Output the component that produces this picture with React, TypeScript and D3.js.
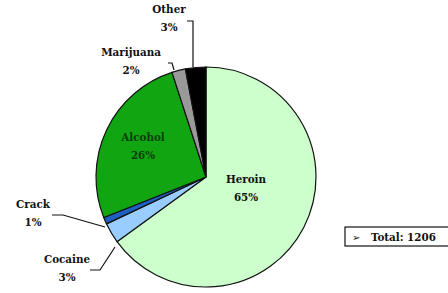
import { useEffect, useRef } from "react"
import * as d3 from "d3"

const categories = ["Heroin", "Cocaine", "Crack", "Alcohol", "Marijuana", "Other"]
const shares = [65, 3, 1, 26, 2, 3]
const sliceColors = ["#ccffcc", "#99ccff", "#1f5fc0", "#11a611", "#999999", "#000000"]
const totalLabel = "Total: 1206"

export default function App() {
    const ref = useRef<SVGSVGElement>(null)

    useEffect(() => {
        const width = 448, height = 293
        const cx = 206, cy = 177, r = 110
        const svg = d3.select(ref.current)
        svg.selectAll("*").remove()

        const data = categories.map((c, i) => ({ name: c, value: shares[i], color: sliceColors[i] }))
        const pie = d3.pie<any>().value((d) => d.value).sort(null)
        const arcs = pie(data)
        const arc = d3.arc<any>().innerRadius(0).outerRadius(r)

        const g = svg.append("g").attr("transform", `translate(${cx},${cy})`)

        g.selectAll("path")
            .data(arcs)
            .join("path")
            .attr("d", arc)
            .attr("fill", (d) => d.data.color)
            .attr("stroke", "#111")
            .attr("stroke-width", 1.2)

        const font = "'DejaVu Serif Condensed', 'DejaVu Serif', serif"

        // label positions relative to center, plus leader line bends
        const inside: Record<string, [number, number]> = {
            Heroin: [40, 6],
            Alcohol: [-63, -36],
        }
        const outside: Record<string, { t: [number, number], line: [number, number][] }> = {
            Other: { t: [-37, -164], line: [[-19, -156], [-13, -156], [-13, -110]] },
            Marijuana: { t: [-75, -121], line: [[-38, -114], [-34, -114], [-32, -107]] },
            Crack: { t: [-173, 31], line: [[-154, 38], [-143, 38], [-101, 50]] },
            Cocaine: { t: [-139, 86], line: [[-116, 93], [-106, 93], [-91, 70]] },
        }

        arcs.forEach((a) => {
            const name = a.data.name
            const label = `${a.data.value}%`
            let pos: [number, number]
            if (inside[name]) {
                pos = inside[name]
            } else {
                const o = outside[name]
                pos = o.t
                g.append("path")
                    .attr("d", d3.line()(o.line))
                    .attr("fill", "none")
                    .attr("stroke", "#111")
                    .attr("stroke-width", 1.2)
            }
            const t = g.append("text")
                .attr("text-anchor", "middle")
                .attr("font-family", font)
                .attr("font-weight", "bold")
                .attr("font-size", 11.5)
                .attr("fill", name === "Alcohol" ? "#0b3d0b" : "#111")
            t.append("tspan").attr("x", pos[0]).attr("y", pos[1]).text(name)
            t.append("tspan").attr("x", pos[0]).attr("y", pos[1] + 18).text(label)
        })

        const lg = svg.append("g").attr("transform", "translate(345,227)")
        lg.append("rect")
            .attr("width", 110).attr("height", 19)
            .attr("fill", "white").attr("stroke", "#111").attr("stroke-width", 1.2)
        lg.append("text")
            .attr("x", 7).attr("y", 14)
            .attr("font-family", "'DejaVu Sans', sans-serif")
            .attr("font-size", 10)
            .attr("fill", "#111")
            .text("➢")
        lg.append("text")
            .attr("x", 26).attr("y", 14)
            .attr("font-family", font)
            .attr("font-weight", "bold")
            .attr("font-size", 11.5)
            .attr("fill", "#111")
            .text(totalLabel)

        svg.attr("width", width).attr("height", height)
    }, [])

    return (
        <svg ref={ref} width={448} height={293}
            style={{ position: "absolute", left: 0, top: 0, background: "white" }} />
    )
}
